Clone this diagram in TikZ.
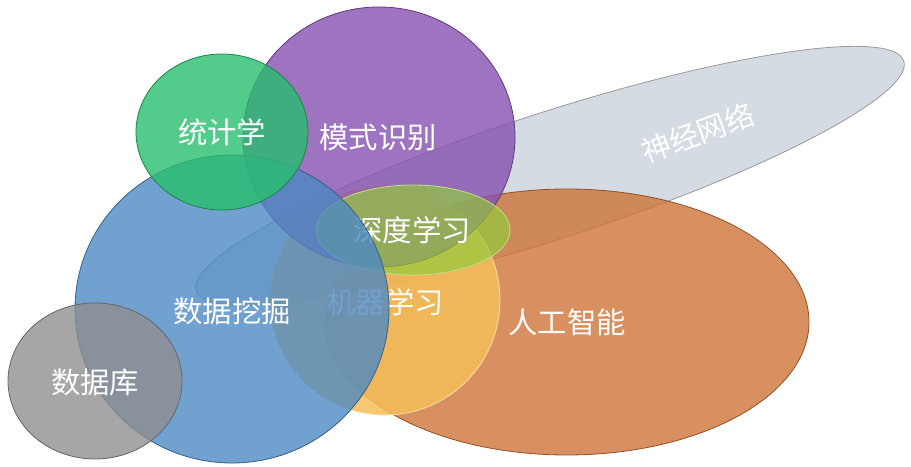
\documentclass[tikz,border=0pt]{standalone}
\usepackage{fontspec}
\newfontfamily\cjk{Noto Sans CJK SC}
\definecolor{nncol}{RGB}{203,210,220}
\definecolor{aicol}{RGB}{206,116,56}
\definecolor{mlcol}{RGB}{244,190,88}
\definecolor{prcol}{RGB}{134,81,176}
\definecolor{dlcol}{RGB}{146,204,60}
\definecolor{dmcol}{RGB}{76,137,195}
\definecolor{stcol}{RGB}{40,190,110}
\definecolor{dbcol}{RGB}{144,144,144}
\begin{document}
\begin{tikzpicture}[x=0.75pt, y=0.75pt, every node/.style={font=\cjk\fontsize{22}{26}\selectfont, text=white},
    blob/.style={fill opacity=0.8, line width=0.6pt}]
    \useasboundingbox (0,0) rectangle (911,467);
    % neural networks
    \draw[blob, fill=nncol, draw=black!40, rotate around={18:(550,291)}] (550,291) ellipse [x radius=372, y radius=63];
    \node[rotate=20] (nn) at (698,334) {神经网络};
    % artificial intelligence
    \draw[blob, fill=aicol, draw=aicol!70!black] (567,145) ellipse [x radius=242, y radius=133];
    \node (ai) at (567,145) {人工智能};
    % machine learning
    \draw[blob, fill opacity=0.85, fill=mlcol, draw=mlcol!50!white] (385,167) ellipse [x radius=115, y radius=115];
    \node (ml) at (385,165) {机器学习};
    % pattern recognition
    \draw[blob, fill=prcol, draw=prcol!70!black] (379,330) ellipse [x radius=136, y radius=130];
    \node (pr) at (378,330) {模式识别};
    % deep learning
    \draw[blob, fill opacity=0.68, fill=dlcol, draw=dlcol!60!white] (413,237) ellipse [x radius=97, y radius=45];
    \node (dl) at (412,237) {深度学习};
    % data mining
    \draw[blob, fill=dmcol, draw=dmcol!70!black] (232,158) ellipse [x radius=157, y radius=154];
    \node (dm) at (232,156) {数据挖掘};
    % statistics
    \draw[blob, fill=stcol, draw=stcol!70!black] (222,335) ellipse [x radius=86, y radius=78];
    \node (st) at (222,335) {统计学};
    % database
    \draw[blob, fill=dbcol, draw=dbcol!70!black] (95,86) ellipse [x radius=87, y radius=78];
    \node (db) at (95,85) {数据库};
\end{tikzpicture}
\end{document}
